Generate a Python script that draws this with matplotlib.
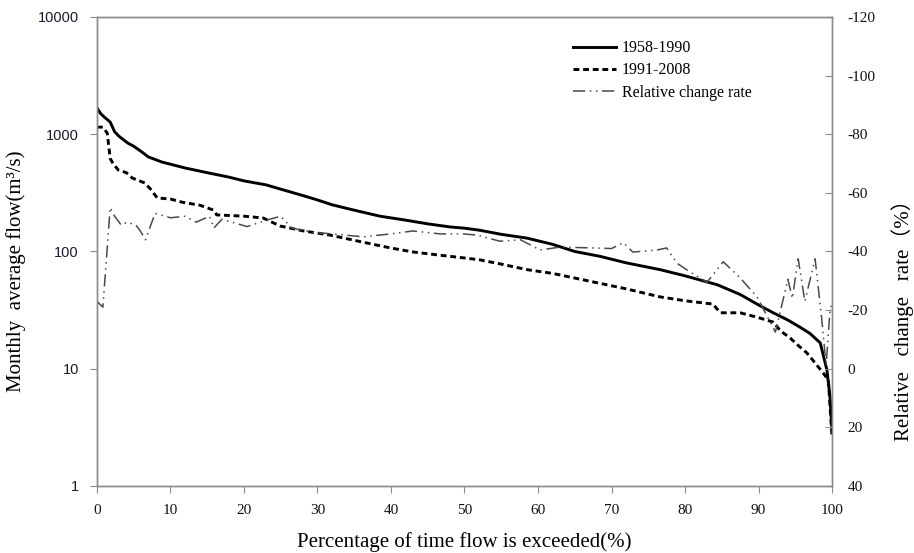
import matplotlib.pyplot as plt
import numpy as np

plt.rcParams['axes.unicode_minus'] = False

# exceedance percentage (x) and monthly average flow
x_early = [0, 0.5, 1.0, 1.8, 2.4, 3, 4.2, 5, 6.1, 7, 8.8, 10, 12, 15, 18, 20, 23, 25,
           28, 30, 32, 35, 38.5, 42, 45, 48, 50, 52, 55, 58.5, 62, 65, 68.4, 72, 76.6,
           80, 84.4, 87.5, 90, 92, 94, 95.6, 97, 98.4, 99.3, 99.7, 100]
flow_early = [1680, 1500, 1400, 1270, 1050, 960, 840, 790, 706, 640, 580, 555, 515, 470,
              430, 400, 370, 340, 300, 275, 250, 225, 200, 185, 172, 162, 158, 152, 140,
              130, 115, 100, 91, 80, 70, 62, 52, 43, 35, 30, 26, 22.7, 20, 16.6, 9.8, 6,
              3.0]

x_late = [0, 0.8, 1.4, 1.8, 2.2, 2.9, 4.0, 4.8, 6.5, 7.3, 8.2, 10, 11.6, 14, 15.8, 16.3,
          20, 22.6, 24.9, 28, 31.7, 36.2, 40, 43, 46, 50, 52, 55, 58.5, 62, 67.5, 72,
          76.6, 80, 83.8, 84.8, 87.5, 89.8, 92, 93, 94.3, 95.6, 96.6, 98.8, 99.5, 100]
flow_late = [1150, 1150, 1020, 620, 560, 495, 470, 423, 384, 340, 286, 280, 263, 248,
             226, 205, 200, 193, 165, 150, 138, 120, 107, 99, 94, 88, 85, 78, 70, 65, 55,
             48, 41, 38, 35.6, 30, 30, 27.5, 25, 21, 18.3, 15.4, 13.6, 9.2, 8, 2.6]

x_rate = [0, 0.8, 1.8, 2.4, 3.3, 4.1, 5.3, 5.9, 6.6, 7.9, 10, 12, 13.5, 15.3, 15.9, 17,
          20.4, 23.5, 25, 26.5, 29.4, 32, 36.2, 40, 43, 46.7, 49.8, 51.7, 54.8, 57.6,
          60.3, 63, 67.5, 70, 71.6, 72.9, 76.2, 77.5, 78.9, 80.7, 83, 85.2, 87.5, 89.8,
          92.3, 94, 94.6, 95.4, 96.3, 97.7, 98.6, 99.2, 99.7, 100]
rate = [-23, -21, -55, -52, -49, -50, -49, -47, -44, -53, -51.5, -52, -50, -52, -48, -51,
        -48.5, -51, -52, -48, -46.5, -46, -45, -46, -47, -46, -46, -45.6, -43.5, -44,
        -40.5, -41.5, -41.2, -41, -43, -39.8, -40.5, -41.2, -36, -33, -29.5, -36.5, -31,
        -24.5, -12.5, -30.5, -24, -37.5, -23, -37.5, -17, -1, -19, -23]

x_ticks = list(range(0, 101, 10))
rate_ticks = list(range(-120, 41, 20))

serif = ['Liberation Serif', 'Noto Sans CJK SC']
spine_col = '#8c8c8c'

fig = plt.figure(figsize=(9.14, 5.53), dpi=100)
ax = fig.add_axes([0.1061, 0.1212, 0.8042, 0.8481])
ax2 = ax.twinx()

l1, = ax.plot(x_early, flow_early, color='black', lw=2.1, label='1958-1990')
l2, = ax.plot(x_late, flow_late, color='black', lw=2.1, dashes=(2, 1.3), label='1991-2008')
l3, = ax2.plot(x_rate, rate, color='#4a4a4a', lw=1.1, dashes=(8, 3, 1, 3, 1, 3),
               label='Relative change rate')

ax.set_yscale('log')
ax.set_ylim(1, 10000)
ax.set_xlim(0, 100)
ax.set_xticks(x_ticks)
ax.set_yticks([1, 10, 100, 1000, 10000])
ax.set_yticklabels(['1', '10', '100', '1000', '10000'])
ax.yaxis.set_minor_locator(plt.NullLocator())

ax2.set_ylim(40, -120)
ax2.set_yticks(rate_ticks)

for a in (ax, ax2):
    for s in a.spines.values():
        s.set_color(spine_col)
        s.set_linewidth(1.0)

ax.tick_params(axis='x', direction='out', length=5, color=spine_col, labelsize=11,
               labelcolor='#111111', pad=8)
ax.tick_params(axis='y', direction='out', length=5, color=spine_col, labelsize=10.5,
               labelcolor='#1a1a2a', pad=8)
ax2.tick_params(axis='y', direction='in', length=5, color=spine_col, labelsize=11,
                labelcolor='#111111', pad=11)
for t in ax.get_xticklabels() + ax2.get_yticklabels():
    t.set_family(serif)
for t in ax.get_yticklabels():
    t.set_family('Liberation Sans')

ax.set_xlabel('Percentage of time flow is exceeded(%)', family=serif, fontsize=15)
ax.xaxis.set_label_coords(0.5, -0.098)
ax.set_ylabel('Monthly  average flow(m³/s)', family=serif, fontsize=15)
ax.yaxis.set_label_coords(-0.097, 0.458)
ax2.set_ylabel('Relative   change   rate（%）', family=serif, fontsize=15)
ax2.yaxis.set_label_coords(1.08, 0.365)

fig.legend(handles=[l1, l2, l3], loc='upper left', bbox_to_anchor=(0.611, 0.953),
           frameon=False, prop={'family': serif, 'size': 11.5}, handlelength=2.7,
           handletextpad=0.35, labelspacing=0.38)

plt.savefig('out.png', dpi=100)
